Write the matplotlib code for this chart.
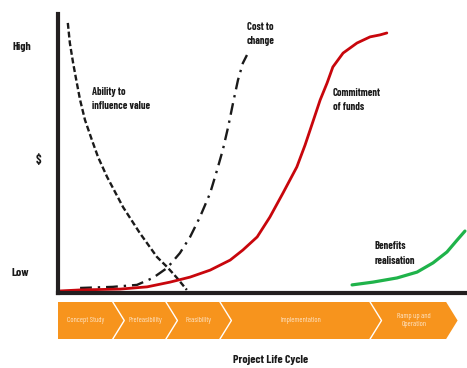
import matplotlib.pyplot as plt
from matplotlib.patches import Polygon

# project life cycle curves (x: progress through the life cycle, y: relative $)
ability_x = [2.4, 2.9, 3.7, 4.6, 5.4, 6.6, 8.3, 9.8, 12.0, 15.9, 20.0, 24.2,
             26.7, 29.1, 31.5]
ability_y = [96.8, 89.6, 82.4, 75.3, 69.2, 62.0, 54.8, 48.7, 41.6, 30.8, 21.5,
             12.9, 9.3, 5.4, 1.1]

cost_x = [5.4, 13.4, 19.3, 23.2, 26.7, 29.8, 32.3, 34.7, 37.2, 38.9, 40.3,
          41.6, 42.8, 44.0, 45.2, 46.2]
cost_y = [1.8, 2.2, 2.9, 5.4, 9.0, 14.3, 20.1, 27.2, 35.8, 44.1, 51.3, 59.5,
          68.1, 76.3, 82.4, 85.3]

funds_x = [0, 5.4, 15.2, 21.8, 27.4, 32.3, 37.2, 42.1, 45.2, 48.7, 51.8, 55.0,
           58.4, 60.4, 62.3, 64.1, 65.8, 67.2, 69.7, 73.1, 76.3, 78.7, 80.4]
funds_y = [0.7, 1.1, 1.4, 2.2, 3.9, 5.7, 8.2, 11.8, 15.4, 20.1, 27.2, 35.8,
           45.2, 53.0, 61.3, 69.2, 75.3, 81.0, 86.0, 89.6, 91.8, 92.5, 93.2]

benefits_x = [71.9, 77.0, 82.9, 87.8, 91.7, 95.1, 97.6, 99.5]
benefits_y = [2.9, 3.9, 5.4, 7.5, 10.8, 14.7, 19.0, 22.2]

stages = ["Concept Study", "Prefeasibility", "Feasibility", "Implementation",
          "Ramp up and\nOperation"]
stage_edges = [0, 13.4, 26.4, 39.6, 76.3, 94.9]

W, H = 467, 368
fig = plt.figure(figsize=(W / 100, H / 100), dpi=100)
ax = fig.add_axes([58 / W, 1 - 293 / H, 1 - 58 / W, 279 / H])
ax.set_xlim(0, 100)
ax.set_ylim(0, 100)

lbl = dict(family=["Barlow Condensed", "DejaVu Sans"], fontweight="bold",
           color="#1a1a1a")

ax.plot(ability_x, ability_y, color="#1a1a1a", lw=1.7, ls=(0, (2.5, 1.2)))
ax.plot(cost_x, cost_y, color="#1a1a1a", lw=1.7, ls=(0, (5, 2.5, 1, 2.5)))
ax.plot(funds_x, funds_y, color="#c8060c", lw=2.0, solid_capstyle="round",
        solid_joinstyle="round")
ax.plot(benefits_x, benefits_y, color="#1fb34a", lw=2.3, solid_capstyle="round",
        solid_joinstyle="round", clip_on=False)

for side in ["top", "right"]:
    ax.spines[side].set_visible(False)
for side in ["left", "bottom"]:
    ax.spines[side].set_linewidth(3)
    ax.spines[side].set_color("#231f20")
ax.set_xticks([])
ax.set_yticks([])

ax.text(-8.8, 88.2, "High", ha="center", va="center", fontsize=8.5, **lbl)
ax.text(-4.9, 47.7, "$", ha="center", va="center", fontsize=9, **lbl)
ax.text(-9.3, 7.2, "Low", ha="center", va="center", fontsize=8.5, **lbl)

ax.text(8.3, 69.5, "Ability to\ninfluence value", ha="left", va="center",
        fontsize=7.5, linespacing=1.5, **lbl)
ax.text(46.2, 92.8, "Cost to\nchange", ha="left", va="center",
        fontsize=7.5, linespacing=1.6, **lbl)
ax.text(67.2, 69.2, "Commitment\nof funds", ha="left", va="center",
        fontsize=7.5, linespacing=1.6, **lbl)
ax.text(77.5, 14.3, "Benefits\nrealisation", ha="left", va="center",
        fontsize=7.5, linespacing=1.6, **lbl)

# life cycle stage band
band = fig.add_axes([58 / W, 1 - 339 / H, 1 - 58 / W, 37 / H])
band.set_xlim(0, 100)
band.set_ylim(0, 1)
band.axis("off")
depth = 2.8
tip = stage_edges[-1]
band.add_patch(Polygon([(0, 0), (tip, 0), (tip + depth, 0.5), (tip, 1), (0, 1)],
                       closed=True, facecolor="#f7941d", edgecolor="none",
                       clip_on=False))
for b in stage_edges[1:-1]:
    band.plot([b, b + depth, b], [1, 0.5, 0], color="white", lw=1, clip_on=False)

for i, name in enumerate(stages):
    lo, hi = stage_edges[i], stage_edges[i + 1]
    cx = (lo + hi) / 2 + (depth / 2 if i > 0 else 0)
    band.text(cx, 0.5, name, ha="center", va="center", fontsize=5.5,
              family=["Barlow Condensed", "DejaVu Sans"], color="#fde3c4",
              linespacing=1.2)

fig.text(271 / W, 1 - 360 / H, "Project Life Cycle", ha="center", va="center",
         fontsize=8.5, **lbl)

fig.savefig("out.png", dpi=100)
